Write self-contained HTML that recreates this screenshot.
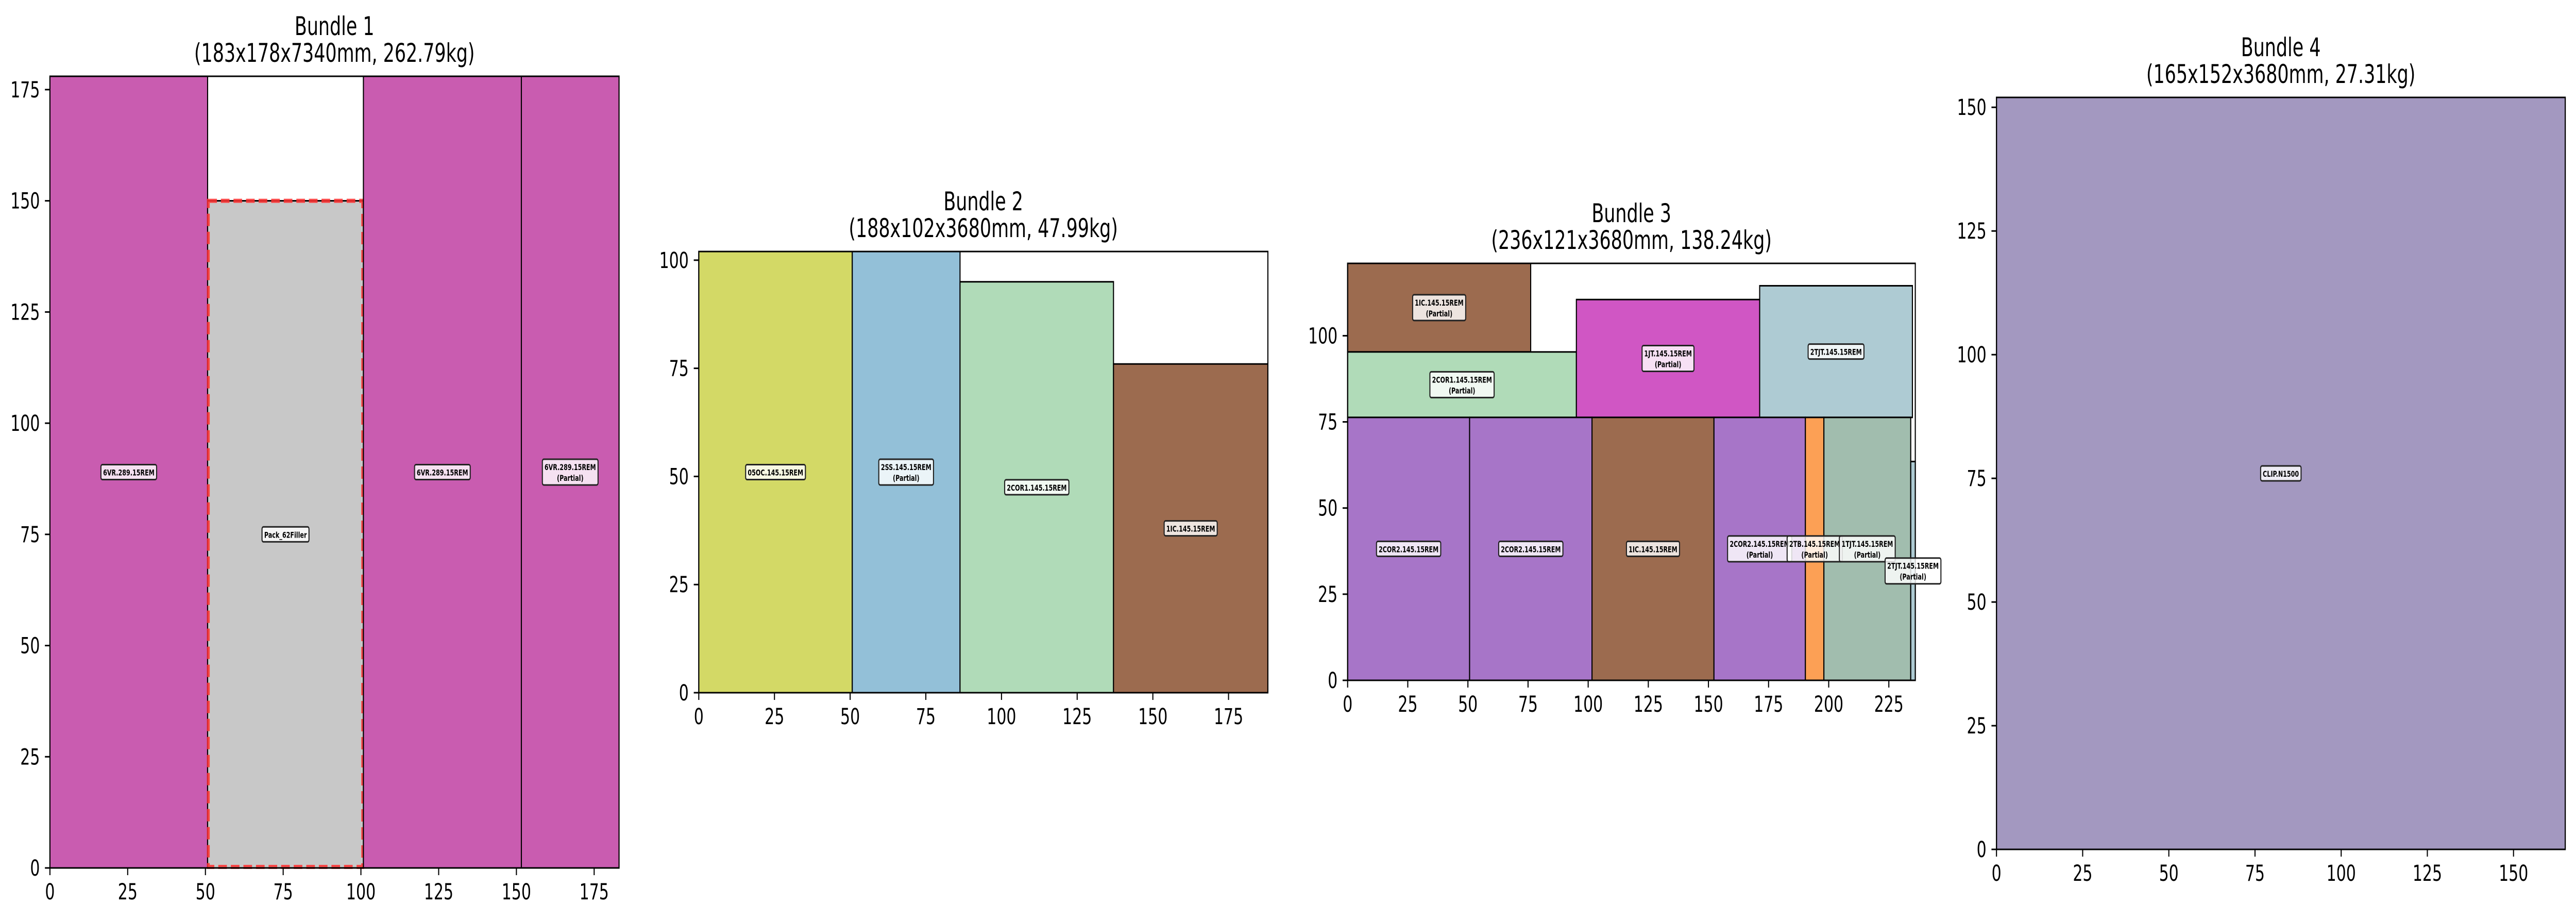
<!DOCTYPE html>
<html><head><meta charset="utf-8">
<style>
html,body{margin:0;padding:0;background:#fff;width:100%;height:100%;overflow:hidden;}
svg{display:block;width:100vw;height:100vh;}
text{font-family:"DejaVu Sans","Liberation Sans",sans-serif;}
</style></head>
<body>
<svg id="fig" viewBox="0 0 7170 1785" preserveAspectRatio="none" xmlns="http://www.w3.org/2000/svg"></svg>
<script>
// ---- Bundle 1 data ----
const b1Names = ["6VR.289.15REM","Pack_62Filler","6VR.289.15REM","6VR.289.15REM"];
const b1Partial = [false,false,false,true];
const b1X = [0,50.7,100.8,151.6];
const b1W = [50.7,50.1,50.8,31.4];
const b1Y = [0,0,0,0];
const b1H = [178,150,178,178];
const b1Colors = ["#c95cb0","#c8c8c8","#c95cb0","#c95cb0"];
const b1Filler = [false,true,false,false];
// ---- Bundle 2 data ----
const b2Names = ["05OC.145.15REM","2SS.145.15REM","2COR1.145.15REM","1IC.145.15REM"];
const b2Partial = [false,true,false,false];
const b2X = [0,50.7,86.3,137];
const b2W = [50.7,35.6,50.7,51];
const b2Y = [0,0,0,0];
const b2H = [102,102,95,76];
const b2Colors = ["#d3d966","#93c0d8","#b0dbb8","#9c6b4f"];
// ---- Bundle 3 data ----
const b3Names = ["1IC.145.15REM","2COR1.145.15REM","1JT.145.15REM","2TJT.145.15REM","2COR2.145.15REM","2COR2.145.15REM","1IC.145.15REM","2COR2.145.15REM","2TB.145.15REM","1TJT.145.15REM","2TJT.145.15REM"];
const b3Partial = [true,true,true,false,false,false,false,true,true,true,true];
const b3X = [0,0,95.1,171.3,0,50.7,101.6,152.3,190.3,198,234.1];
const b3W = [76.1,95.1,76.2,63.5,50.7,50.9,50.7,38,7.7,36.1,1.9];
const b3Y = [95.3,76.3,76.3,76.3,0,0,0,0,0,0,0];
const b3H = [25.7,19,34.2,38.2,76.3,76.3,76.3,76.3,76.3,76.3,63.5];
const b3Colors = ["#9c6b4f","#b0dbb8","#d056c4","#aecbd3","#a775c8","#a775c8","#9c6b4f","#a775c8","#fca055","#a1bdae","#aecbd3"];
// ---- Bundle 4 data ----
const b4Names = ["CLIP.N1500"];
const b4Partial = [false];
const b4X = [0];
const b4W = [165];
const b4Y = [0];
const b4H = [152];
const b4Colors = ["#a398c0"];
// ---- titles / ticks ----
const titles1 = ["Bundle 1","Bundle 2","Bundle 3","Bundle 4"];
const titles2 = ["(183x178x7340mm, 262.79kg)","(188x102x3680mm, 47.99kg)","(236x121x3680mm, 138.24kg)","(165x152x3680mm, 27.31kg)"];
const xLims = [183,188,236,165];
const yLims = [178,102,121,152];
const xTicks1 = [0,25,50,75,100,125,150,175];
const yTicks1 = [0,25,50,75,100,125,150,175];
const xTicks2 = [0,25,50,75,100,125,150,175];
const yTicks2 = [0,25,50,75,100];
const xTicks3 = [0,25,50,75,100,125,150,175,200,225];
const yTicks3 = [0,25,50,75,100];
const xTicks4 = [0,25,50,75,100,125,150];
const yTicks4 = [0,25,50,75,100,125,150];

const NS = "http://www.w3.org/2000/svg";
const svg = document.getElementById('fig');
function mk(tag, attrs, parent){
  const e = document.createElementNS(NS, tag);
  for (const k in attrs) e.setAttribute(k, attrs[k]);
  (parent||svg).appendChild(e);
  return e;
}
const boxes = [
  {l:139,r:1723,t:148,b:1684},
  {l:1945,r:3529,t:488,b:1344},
  {l:3751,r:5331,t:511,b:1320},
  {l:5557,r:7140,t:189,b:1648}
];
const bundles = [
  {names:b1Names,partial:b1Partial,x:b1X,w:b1W,y:b1Y,h:b1H,c:b1Colors,filler:b1Filler,xt:xTicks1,yt:yTicks1},
  {names:b2Names,partial:b2Partial,x:b2X,w:b2W,y:b2Y,h:b2H,c:b2Colors,filler:null,xt:xTicks2,yt:yTicks2},
  {names:b3Names,partial:b3Partial,x:b3X,w:b3W,y:b3Y,h:b3H,c:b3Colors,filler:null,xt:xTicks3,yt:yTicks3},
  {names:b4Names,partial:b4Partial,x:b4X,w:b4W,y:b4Y,h:b4H,c:b4Colors,filler:null,xt:xTicks4,yt:yTicks4}
];
const labelLayer = [];
bundles.forEach((B, i) => {
  const bx = boxes[i];
  const sx = v => bx.l + v / xLims[i] * (bx.r - bx.l);
  const sy = v => bx.b - v / yLims[i] * (bx.b - bx.t);
  const g = mk('g', {});
  
  
  const t1 = mk('text', {x:(bx.l+bx.r)/2, y:bx.t-80, 'font-size':50, 'text-anchor':'middle', fill:'#000'}, g);
  t1.textContent = titles1[i];
  
  
  const t2 = mk('text', {x:(bx.l+bx.r)/2, y:bx.t-28, 'font-size':50, 'text-anchor':'middle', fill:'#000'}, g);
  t2.textContent = titles2[i];
  
  
  mk('rect', {x:bx.l, y:bx.t, width:bx.r-bx.l, height:bx.b-bx.t, fill:'#fff'}, g);
  B.names.forEach((n, j) => {
    const x0 = sx(B.x[j]), x1 = sx(B.x[j] + B.w[j]);
    const y1 = sy(B.y[j]), y0 = sy(B.y[j] + B.h[j]);
    const r = mk('rect', {x:x0, y:y0, width:x1-x0, height:y1-y0, fill:B.c[j], stroke:'#000', 'stroke-width':3}, g);
    
    
    if (B.filler && B.filler[j]) {
      const d = mk('rect', {x:x0+2, y:y0, width:x1-x0-4, height:y1-y0-2, fill:'none', stroke:'#ff3030', 'stroke-opacity':0.85, 'stroke-width':8, 'stroke-dasharray':'24 11'}, g);
      
      
    }
    labelLayer.push({cx:(x0+x1)/2, cy:(y0+y1)/2, name:n, partial:B.partial[j]});
  });
  mk('rect', {x:bx.l, y:bx.t, width:bx.r-bx.l, height:bx.b-bx.t, fill:'none', stroke:'#000', 'stroke-width':3}, g);
  B.xt.forEach(v => {
    const px = sx(v);
    mk('line', {x1:px, x2:px, y1:bx.b, y2:bx.b+14, stroke:'#000', 'stroke-width':3}, g);
    const tl = mk('text', {x:px, y:bx.b+61, 'font-size':43, 'text-anchor':'middle', fill:'#000'}, g);
    tl.textContent = v;
    
    
  });
  B.yt.forEach(v => {
    const py = sy(v);
    mk('line', {x1:bx.l-14, x2:bx.l, y1:py, y2:py, stroke:'#000', 'stroke-width':3}, g);
    const tl = mk('text', {x:bx.l-28, y:py+15, 'font-size':43, 'text-anchor':'end', fill:'#000'}, g);
    tl.textContent = v;
    
    
  });
});
labelLayer.forEach(L => {
  const g = mk('g', {});
  
  
  const lines = L.partial ? [L.name, '(Partial)'] : [L.name];
  const lh = 21;
  const top = L.cy - lines.length*lh/2;
  const bg = mk('rect', {rx:4, ry:4, fill:'#fff', 'fill-opacity':0.82, stroke:'#222', 'stroke-width':3}, g);
  let maxW = 0;
  lines.forEach((s, k) => {
    const t = mk('text', {x:L.cx, y:top + lh*(k+1) - 4, 'font-size':16, 'font-weight':'bold', 'text-anchor':'middle', fill:'#000'}, g);
    t.textContent = s;
    try { maxW = Math.max(maxW, t.getBBox().width); } catch(e) { maxW = Math.max(maxW, s.length*10); }
  });
  const pad = 6;
  bg.setAttribute('x', L.cx - maxW/2 - pad);
  bg.setAttribute('y', top - 4);
  bg.setAttribute('width', maxW + 2*pad);
  bg.setAttribute('height', lines.length*lh + 8);
});
</script>
</body></html>
